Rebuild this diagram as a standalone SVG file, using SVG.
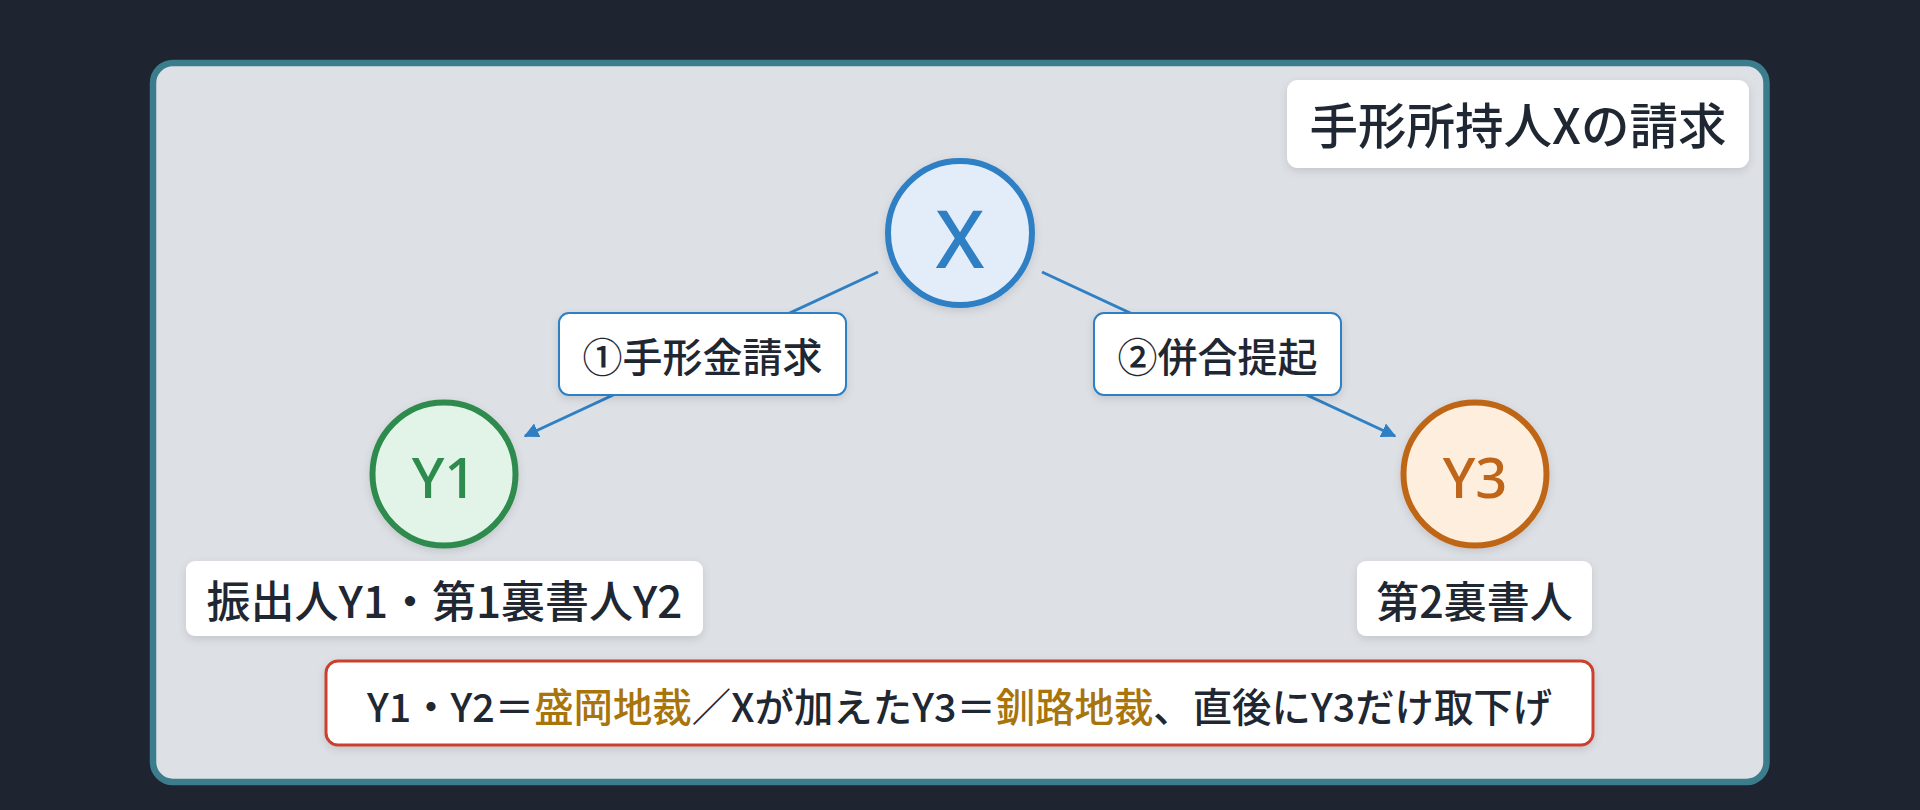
<svg xmlns="http://www.w3.org/2000/svg" width="1920" height="810" viewBox="0 0 1920 810">
<defs>
<style>
text{font-family:"Noto Sans CJK JP","Noto Sans",sans-serif;dominant-baseline:central;text-anchor:middle}
.dark{fill:#1f2732;font-weight:500}
.gold{fill:#a8740c}
.box{fill:#ffffff}
.conn{stroke:#2f7fc4;stroke-width:3;fill:none}
.lbl{fill:#ffffff;stroke:#2f7fc4;stroke-width:2}
.nd{font-family:"Noto Sans",sans-serif;font-weight:500}
</style>
<filter id="sh" x="-20%" y="-20%" width="140%" height="150%">
<feDropShadow dx="0" dy="3" stdDeviation="4" flood-color="#000" flood-opacity="0.12"/>
</filter>
<marker id="arr" viewBox="0 0 10 10" refX="9" refY="5" markerWidth="5" markerHeight="5" orient="auto" markerUnits="strokeWidth">
<path d="M0,0 L10,5 L0,10 z" fill="#2f7fc4"/>
</marker>
</defs>
<rect width="1920" height="810" fill="#1e2430"/>
<rect x="153" y="63" width="1613.5" height="719" rx="20" fill="#dde0e5" stroke="#3b7d8c" stroke-width="6.5"/>

<g id="title">
<rect x="1287" y="80" width="462" height="88" rx="11" class="box" filter="url(#sh)"/>
<text x="1518" y="123" class="dark" font-size="48.5">手形所持人Xの請求</text>
</g>

<g id="connectors">
<line x1="878" y1="272" x2="525" y2="436" class="conn" marker-end="url(#arr)"/>
<line x1="1042" y1="272" x2="1395" y2="436" class="conn" marker-end="url(#arr)"/>
</g>

<g id="label1">
<rect x="559" y="313" width="287" height="82" rx="10" class="lbl" filter="url(#sh)"/>
<text x="702.5" y="355" class="dark" font-size="40">①手形金請求</text>
</g>
<g id="label2">
<rect x="1094" y="313" width="247" height="82" rx="10" class="lbl" filter="url(#sh)"/>
<text x="1217.5" y="355" class="dark" font-size="40">②併合提起</text>
</g>

<g id="nodeX">
<circle cx="960" cy="233" r="72" fill="#e3edf9" stroke="#2f7fc4" stroke-width="6" filter="url(#sh)"/>
<text x="960" y="236" font-size="80" fill="#2f7fc4" class="nd">X</text>
</g>

<g id="nodeY1">
<circle cx="444" cy="474" r="71.5" fill="#e2f4e8" stroke="#2e8b4e" stroke-width="6" filter="url(#sh)"/>
<text x="444" y="476" font-size="56" fill="#2e8b4e" class="nd">Y1</text>
</g>
<g id="nodeY1label">
<rect x="186" y="561" width="517" height="75" rx="9" class="box" filter="url(#sh)"/>
<text x="444.5" y="599" class="dark" font-size="44">振出人Y1・第1裏書人Y2</text>
</g>

<g id="nodeY3">
<circle cx="1475" cy="474" r="71.5" fill="#fdeedd" stroke="#bf6519" stroke-width="6" filter="url(#sh)"/>
<text x="1475" y="476" font-size="56" fill="#bf6519" class="nd">Y3</text>
</g>
<g id="nodeY3label">
<rect x="1357" y="561" width="235" height="75" rx="9" class="box" filter="url(#sh)"/>
<text x="1474.5" y="599" class="dark" font-size="43">第2裏書人</text>
</g>

<g id="note">
<rect x="326" y="661" width="1267" height="84" rx="12" fill="#ffffff" stroke="#c9402e" stroke-width="3" filter="url(#sh)"/>
<text x="959.5" y="704" class="dark" font-size="39.4">Y1・Y2＝<tspan class="gold">盛岡地裁</tspan>／Xが加えたY3＝<tspan class="gold">釧路地裁</tspan>、直後にY3だけ取下げ</text>
</g>
</svg>
